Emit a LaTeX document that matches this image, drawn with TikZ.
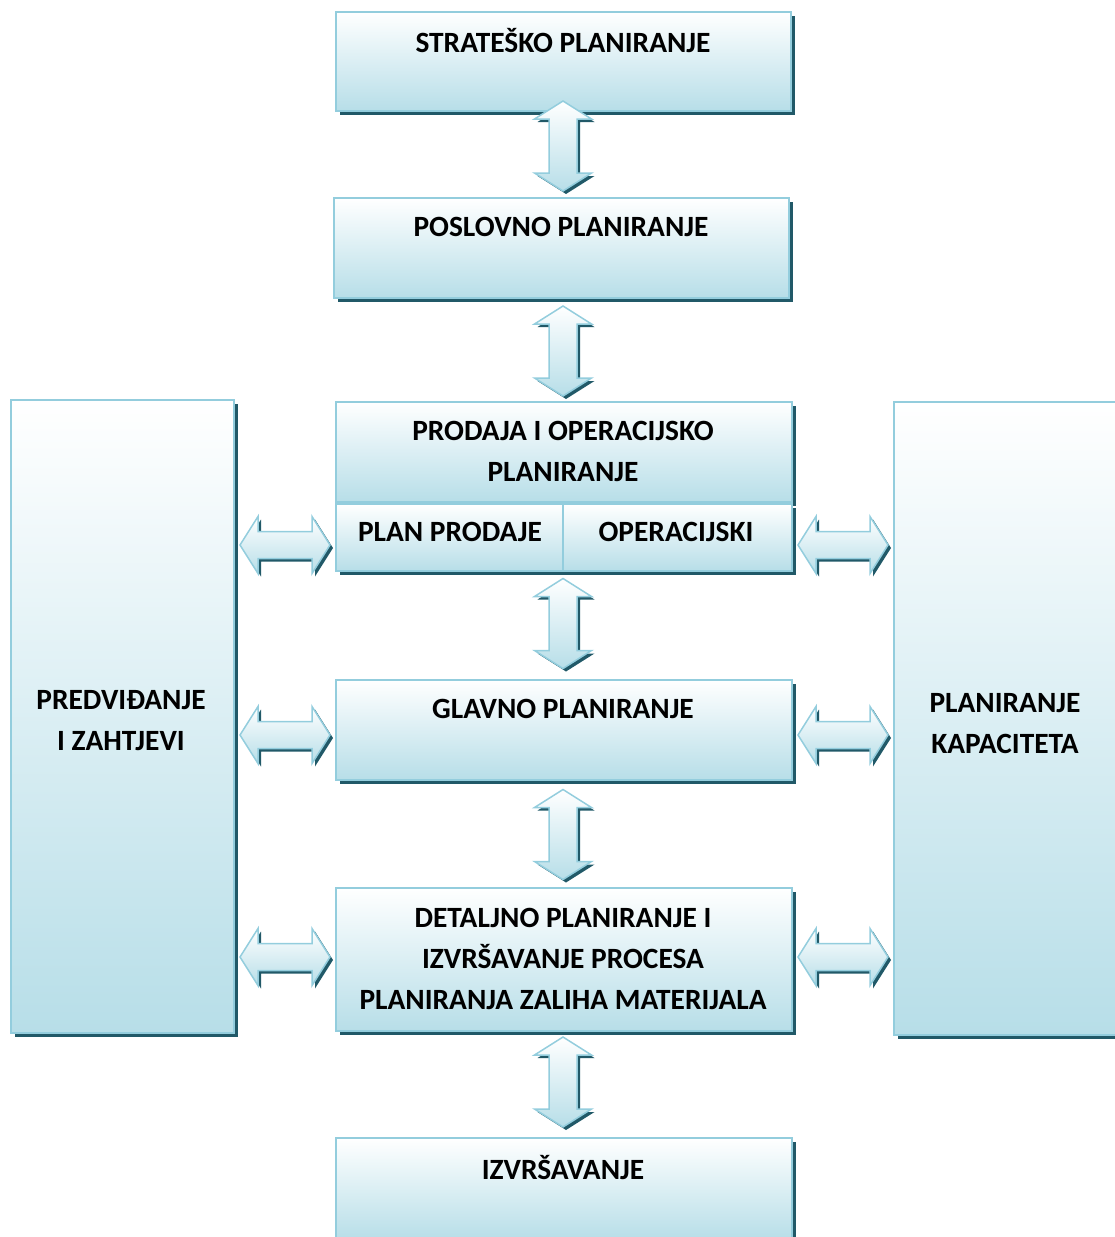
\documentclass[tikz,border=0pt]{standalone}
\usepackage{fontspec}
\setmainfont{Carlito}
\usetikzlibrary{shadows,calc}
\definecolor{borderc}{HTML}{93CDDD}
\definecolor{fillc}{HTML}{B7DEE8}
\definecolor{shadowc}{HTML}{215968}
\def\vpath{(0,45) -- (28.5,27) -- (14,27) -- (14,-27) -- (28.5,-27) -- (0,-45) -- (-28.5,-27) -- (-14,-27) -- (-14,27) -- (-28.5,27) -- cycle}
\def\hpath{(45,0) -- (27,28.5) -- (27,13.5) -- (-27,13.5) -- (-27,28.5) -- (-45,0) -- (-27,-28.5) -- (-27,-13.5) -- (27,-13.5) -- (27,-28.5) -- cycle}
\begin{document}
\begin{tikzpicture}[x=1pt,y=1pt,
  box/.style={draw=borderc, line width=2pt, top color=white, bottom color=fillc,
    drop shadow={shadow xshift=3.5pt, shadow yshift=-3.5pt, fill=shadowc, opacity=1},
    inner sep=0pt, anchor=north west},
  lbl/.style={font=\fontsize{29.4}{41}\selectfont\bfseries, align=center, inner sep=0pt, text=black},
  arrowbody/.style={draw=borderc, line width=1.5pt, top color=white, bottom color=fillc, line join=miter},
  arrowshadow/.style={fill=shadowc},
  pics/varrow/.style={code={
    \fill[arrowshadow, shift={(3,-3)}] \vpath;
    \path[arrowbody] \vpath;}},
  pics/harrow/.style={code={
    \fill[arrowshadow, shift={(3,-3)}] \hpath;
    \path[arrowbody] \hpath;}},
]
\useasboundingbox (0,0) rectangle (1114,-1237);

% side boxes
\node[box, minimum width=223, minimum height=633] (left) at (10,-399) {};
\node[box, minimum width=230, minimum height=633] (right) at (893,-401) {};

% central boxes
\node[box, minimum width=455, minimum height=99] (b1) at (335,-11) {};
\node[box, minimum width=455, minimum height=100] (b2) at (333,-197) {};
\node[box, minimum width=456, minimum height=100] (b3) at (335,-401) {};
\node[box, minimum width=227, minimum height=67] (b3a) at (335,-503) {};
\node[box, minimum width=229, minimum height=67] (b3b) at (562,-503) {};
\node[box, minimum width=456, minimum height=100] (b4) at (335,-679) {};
\node[box, minimum width=456, minimum height=143] (b5) at (335,-887) {};
\node[box, minimum width=456, minimum height=102] (b6) at (335,-1137) {};

% labels
\node[lbl] (t1) at (563,-41) {STRATEŠKO PLANIRANJE};
\node[lbl] (t2) at (561,-227) {POSLOVNO PLANIRANJE};
\node[lbl] (t3) at (563,-451.5) {PRODAJA I OPERACIJSKO\\PLANIRANJE};
\node[lbl] (t3a) at (450,-532) {PLAN PRODAJE};
\node[lbl] (t3b) at (676,-532) {OPERACIJSKI};
\node[lbl] (t4) at (563,-709) {GLAVNO PLANIRANJE};
\node[lbl] (t5) at (563,-958.5) {DETALJNO PLANIRANJE I\\IZVRŠAVANJE PROCESA\\PLANIRANJA ZALIHA MATERIJALA};
\node[lbl] (t6) at (563,-1167) {IZVRŠAVANJE};
\node[lbl] (tl) at (121,-720.5) {PREDVIĐANJE\\I ZAHTJEVI};
\node[lbl] (tr) at (1005,-723.5) {PLANIRANJE\\KAPACITETA};

% vertical block arrows
\pic at (563,-146) {varrow};
\pic at (563,-351) {varrow};
\pic at (563,-623.5) {varrow};
\pic at (563,-834.5) {varrow};
\pic at (563,-1082) {varrow};

% horizontal block arrows
\foreach \yy in {545,735,957} {
  \pic at (285,-\yy) {harrow};
  \pic at (843,-\yy) {harrow};
}
\end{tikzpicture}
\end{document}
